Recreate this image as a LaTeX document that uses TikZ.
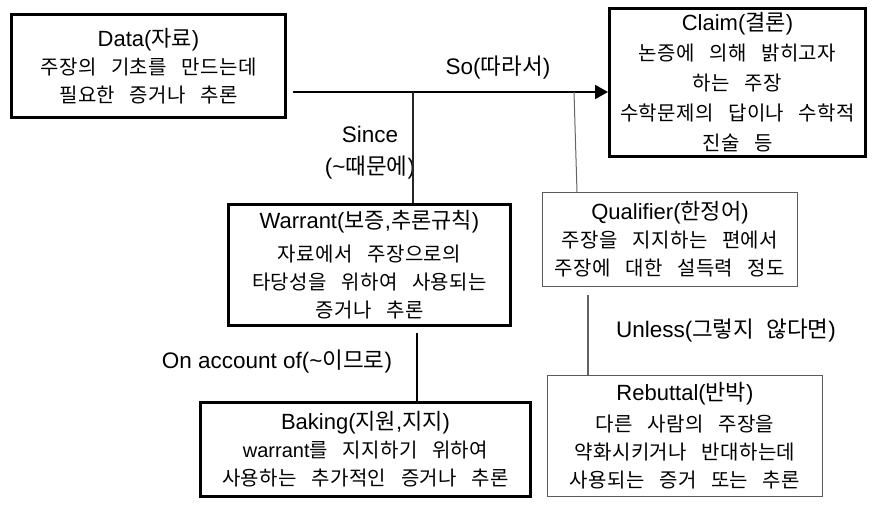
\documentclass[tikz,border=0pt]{standalone}
\usepackage{fontspec}
\setmainfont{Noto Sans CJK KR}
\newfontfamily\bodyfont{Noto Sans CJK KR}[LetterSpace=2,WordSpace=3]
\newfontfamily\lafont{Liberation Sans}
\usetikzlibrary{arrows.meta}
\definecolor{boxgray}{RGB}{90,90,90}
\definecolor{linegray}{RGB}{100,100,100}
\newcommand{\la}[1]{{\lafont #1}}
\newcommand{\hd}[1]{{\normalfont\fontsize{22}{29}\selectfont #1}}

\tikzset{
  bigbox/.style={draw, line width=3pt, align=center, inner sep=0pt,
    font=\bodyfont\fontsize{20}{28}\selectfont},
  thinbox/.style={draw=boxgray, line width=1pt, align=center, inner sep=0pt,
    font=\bodyfont\fontsize{20}{28}\selectfont},
  label/.style={font=\fontsize{22.5}{32}\selectfont, align=center, inner sep=0pt},
  mainlink/.style={line width=2pt, -{Triangle[length=13pt,width=14pt]}},
}

\begin{document}
\begin{tikzpicture}[x=1pt, y=-1pt]
  \useasboundingbox (0,0) rectangle (873,504);

  % boxes
  \node[bigbox, minimum width=274pt, minimum height=103pt] (data) at (148.5,66)
    {\hd{\la{Data(}자료\la{)}}\\ 주장의 기초를 만드는데\\ 필요한 증거나 추론};
  \node[bigbox, minimum width=256pt, minimum height=148pt,
    font=\bodyfont\fontsize{20}{30}\selectfont] (claim) at (737.5,82.5)
    {\hd{\la{Claim(}결론\la{)}}\\ 논증에 의해 밝히고자\\ 하는 주장\\ 수학문제의 답이나 수학적\\ 진술 등};
  \node[bigbox, minimum width=282pt, minimum height=121pt] (warrant) at (369.5,265)
    {\hd{\la{Warrant(}보증\la{,}추론규칙\la{)}}\\[5pt] 자료에서 주장으로의\\ 타당성을 위하여 사용되는\\ 증거나 추론};
  \node[thinbox, minimum width=255pt, minimum height=94pt] (qual) at (670,239.5)
    {\hd{\la{Qualifier(}한정어\la{)}}\\ 주장을 지지하는 편에서\\ 주장에 대한 설득력 정도};
  \node[thinbox, minimum width=275pt, minimum height=121pt] (rebut) at (685,436)
    {\hd{\la{Rebuttal(}반박\la{)}}\\[3pt] 다른 사람의 주장을\\ 약화시키거나 반대하는데\\ 사용되는 증거 또는 추론};
  \node[bigbox, minimum width=330pt, minimum height=94pt] (back) at (365.5,449.5)
    {\hd{\la{Baking(}지원\la{,}지지\la{)}}\\ \la{warrant}를 지지하기 위하여\\ 사용하는 추가적인 증거나 추론};

  % labels
  \node[label] (so) at (498,68) {\la{So(}따라서\la{)}};
  \node[label] (since) at (370,153) {\la{Since}\\\la{(\textasciitilde}때문에\la{)}};
  \node[label] (unless) at (726,331) {\la{Unless(}그렇지\hspace{12pt}않다면\la{)}};
  \node[label] (account) at (277,362) {\la{On account of(\textasciitilde}이므로\la{)}};

  % connectors
  \coordinate (dstart) at (293,92);
  \coordinate (jw) at (413,92);
  \coordinate (jq) at (574,92);
  \coordinate (ux) at (588,0);
  \coordinate (bx) at (417,0);
  \draw[mainlink] (dstart) -- (claim.west |- dstart);
  \draw[line width=2pt, draw=black!85] (jw) -- (warrant.north -| jw);
  \draw[line width=1pt, draw=linegray] (jq) -- ([xshift=3pt]qual.north -| jq);
  \draw[line width=1.5pt, draw=linegray, shorten <=8pt] (qual.south -| ux) -- (rebut.north -| ux);
  \draw[line width=2.5pt, shorten <=6pt] (warrant.south -| bx) -- (back.north -| bx);
\end{tikzpicture}
\end{document}
